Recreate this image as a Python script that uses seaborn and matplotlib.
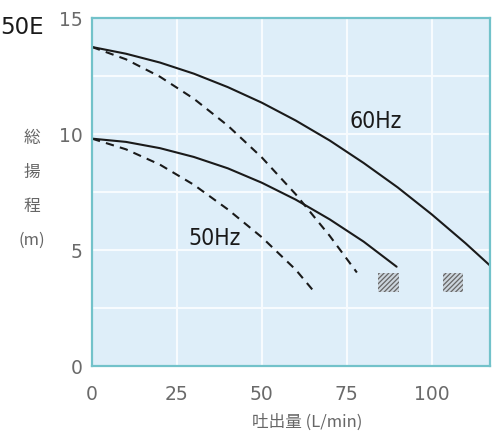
import matplotlib
matplotlib.use("Agg")
import matplotlib.pyplot as plt
import seaborn as sns
import pandas as pd

# ---- data ----
flow_60_solid = [0, 10, 20, 30, 40, 50, 60, 70, 80, 90, 100, 110, 117.5]
head_60_solid = [13.75, 13.46, 13.08, 12.60, 12.02, 11.35, 10.58, 9.72, 8.75, 7.70, 6.54, 5.29, 4.29]

flow_60_dash = [0, 10, 20, 30, 40, 50, 60, 70, 78]
head_60_dash = [13.75, 13.22, 12.47, 11.52, 10.36, 8.99, 7.40, 5.61, 4.03]

flow_50_solid = [0, 10, 20, 30, 40, 50, 60, 70, 80, 89.7]
head_50_solid = [9.80, 9.66, 9.39, 9.01, 8.52, 7.90, 7.17, 6.32, 5.36, 4.28]

flow_50_dash = [0, 10, 20, 30, 40, 50, 60, 66]
head_50_dash = [9.80, 9.34, 8.68, 7.81, 6.75, 5.55, 4.15, 3.10]

box_left = [84.3, 103.3]
box_bottom = [3.2, 3.2]
box_height = [0.8, 0.8]

x_ticks = [0, 25, 50, 75, 100]
y_ticks = [0, 5, 10, 15]
y_minor = [2.5, 7.5, 12.5]

# ---- styling ----
sns.set_theme(style="white")
plt.rcParams['font.family'] = ['DejaVu Sans', 'Noto Sans CJK JP']
plt.rcParams['hatch.linewidth'] = 0.9

fig = plt.figure(figsize=(4.93, 4.35), dpi=100)
ax = fig.add_axes([92/493, 1-367/435, 398/493, 348/435])
ax.set_facecolor('#deeef9')

for sp in ax.spines.values():
    sp.set_color('#72c2ca')
    sp.set_linewidth(1.6)

ax.set_xlim(0, 117.2)
ax.set_ylim(0, 15)
ax.set_xticks(x_ticks)
ax.set_yticks(y_ticks)
ax.set_yticks(y_minor, minor=True)
ax.grid(True, which='both', color='#f7fbfe', linewidth=1.5)
ax.set_axisbelow(True)
ax.tick_params(axis='both', which='both', length=0, labelsize=13.5, colors='#6a6a6a')
ax.tick_params(axis='x', pad=13)
ax.tick_params(axis='y', pad=7)

curves = [
    (flow_60_solid, head_60_solid, '-'),
    (flow_60_dash, head_60_dash, (0, (4, 3))),
    (flow_50_solid, head_50_solid, '-'),
    (flow_50_dash, head_50_dash, (0, (4, 3))),
]
for fx, hy, ls in curves:
    df = pd.DataFrame({'flow': fx, 'head': hy})
    sns.lineplot(data=df, x='flow', y='head', ax=ax, color='#1a1a1a',
                 linewidth=1.5, linestyle=ls, sort=False, estimator=None)

ax.bar(box_left, box_height, bottom=box_bottom, width=6.0, align='edge',
       color='#ccd5dd', edgecolor='#666666', hatch='///////', linewidth=0)

for label, lx, ly in [('60Hz', 83.4, 10.6), ('50Hz', 36.0, 5.52)]:
    ax.text(lx, ly, label, ha='center', va='center', fontsize=16.5,
            family='DejaVu Sans', fontstretch='condensed', color='#1a1a1a')

ax.set_xlabel('吐出量 (L/min)', fontsize=12, color='#666666',
              family=['Noto Sans CJK JP', 'DejaVu Sans'], va='center')
ax.xaxis.set_label_coords(0.54, -0.158)
ax.set_ylabel('総\n揚\n程\n(m)', fontsize=12, color='#666666', rotation=0,
              linespacing=2.3, family=['Noto Sans CJK JP', 'DejaVu Sans'],
              ha='center', va='center')
ax.yaxis.set_label_coords(-0.151, 0.51)

fig.text(0.0, 1-27/435, '50E', ha='left', va='center', fontsize=16.5,
         color='#1a1a1a')

fig.savefig('out.png', dpi=100)
